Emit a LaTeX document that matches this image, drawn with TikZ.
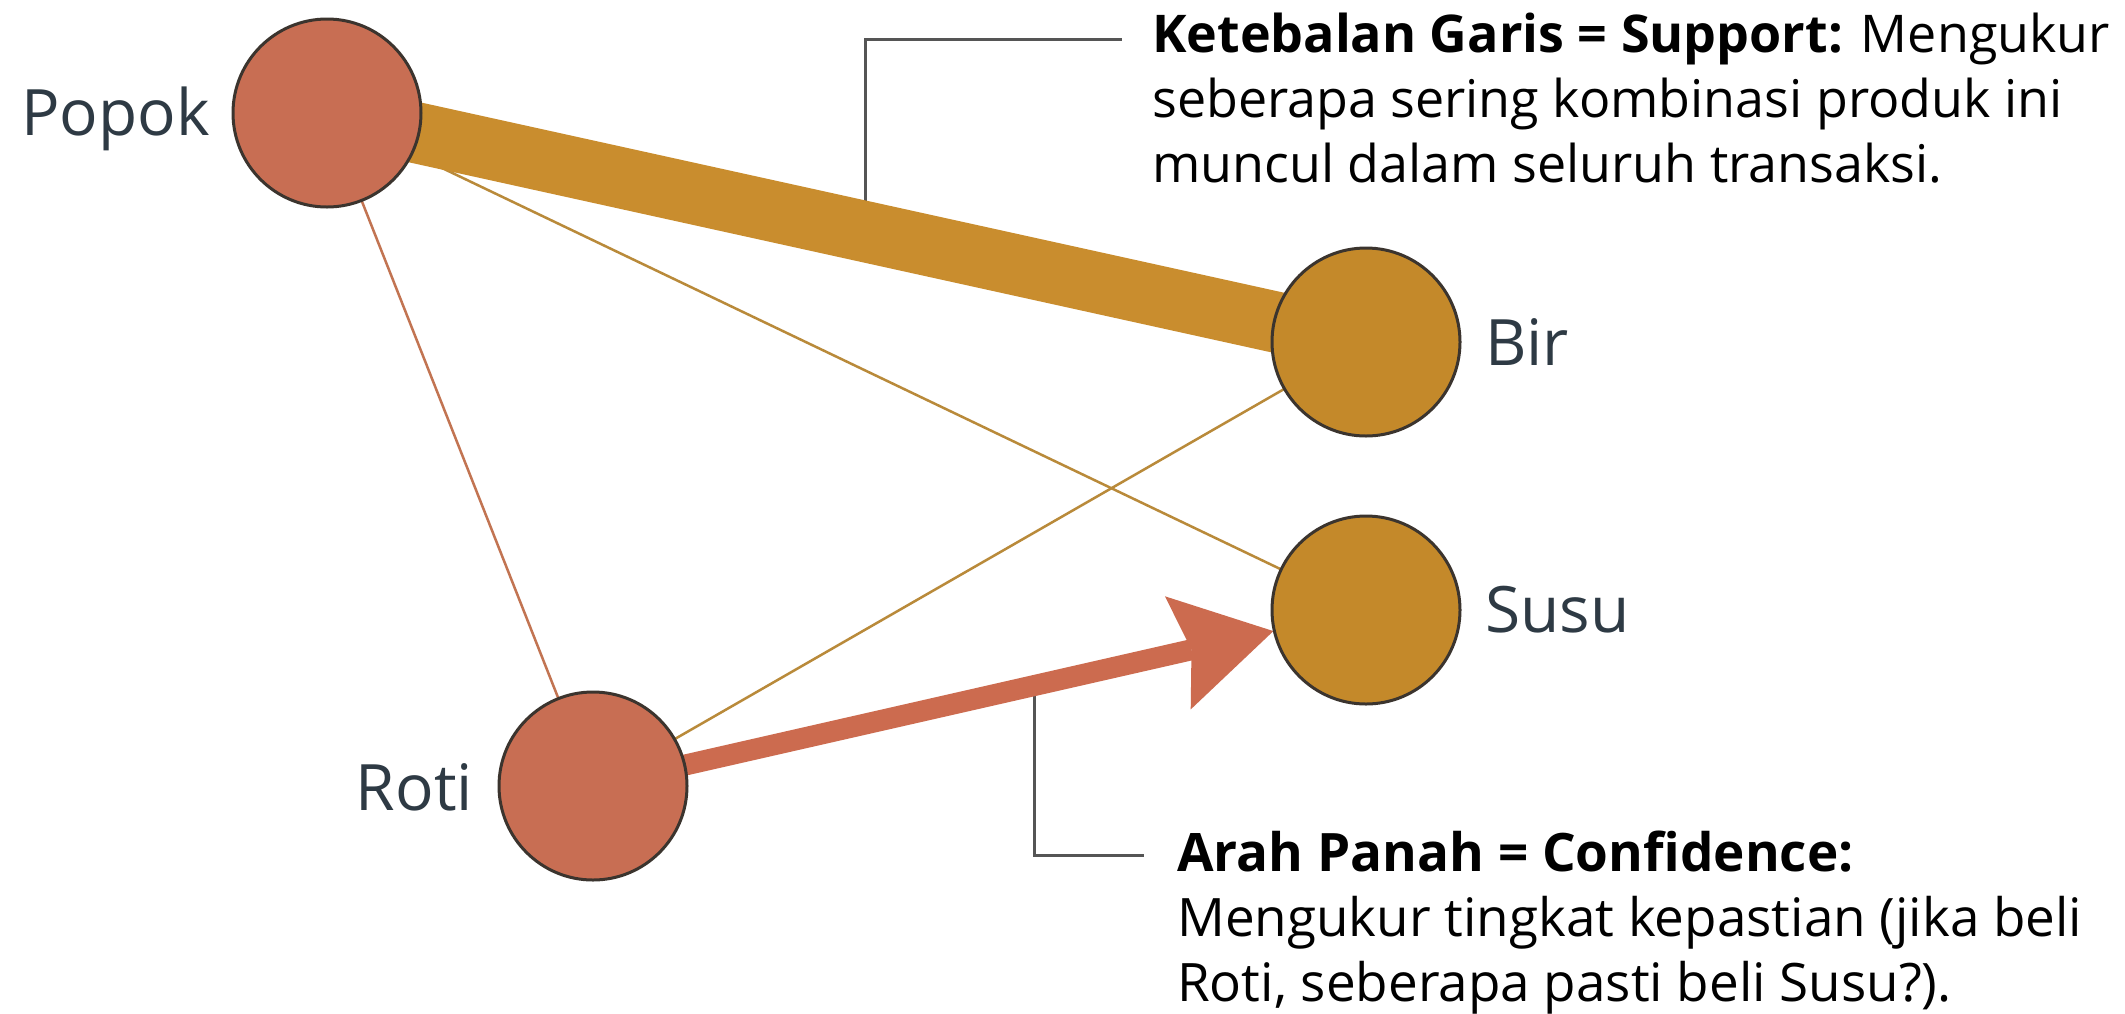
\documentclass[tikz,border=0pt]{standalone}
\usepackage{fontspec}
\setmainfont{Open Sans}
\usetikzlibrary{calc}
\definecolor{terra}{HTML}{C86E53}
\definecolor{gold}{HTML}{C4892A}
\definecolor{band}{HTML}{C98D2E}
\definecolor{rim}{HTML}{3B342E}
\definecolor{labc}{HTML}{2E3A44}
\definecolor{callc}{HTML}{555555}
\definecolor{thinred}{HTML}{C27452}
\definecolor{thingold}{HTML}{B98A3A}
\definecolor{arrowc}{HTML}{CC6B4F}
\pgfdeclarelayer{bg}
\pgfsetlayers{bg,main}
\begin{document}
\begin{tikzpicture}[x=1pt,y=-1pt,
  item/.style={circle, draw=rim, line width=3pt, minimum size=188pt, inner sep=0pt},
  itemred/.style={item, fill=terra},
  itemgold/.style={item, fill=gold},
  lab/.style={inner sep=0pt, text=labc, font=\fontsize{64}{76}\selectfont},
  callline/.style={draw=callc, line width=3pt},
  calltext/.style={inner sep=0pt, anchor=base west, text=black, font=\fontsize{52}{65}\selectfont},
  calltextb/.style={calltext, font=\fontsize{53}{65}\selectfont},
  thinline/.style={line width=2.5pt},
  bandline/.style={draw=band, line width=61pt}
]
\useasboundingbox (0,0) rectangle (2125,1013);
\begin{pgfonlayer}{bg}
  \fill[white] (0,0) rectangle (2125,1013);
\end{pgfonlayer}

% item nodes
\node[itemred]  (popok) at (327,113) {};
\node[itemgold] (bir)   at (1366,342) {};
\node[itemgold] (susu)  at (1366,610) {};
\node[itemred]  (roti)  at (593,786) {};

% labels
\node[lab, anchor=base east] (lpopok) at (210,135) {Popok};
\node[lab, anchor=base west] (lbir)   at (1485,365) {Bir};
\node[lab, anchor=base west] (lsusu)  at (1485,632) {Susu};
\node[lab, anchor=base east] (lroti)  at (473,810) {Roti};

\begin{pgfonlayer}{bg}
  % thin edges
  \draw[thinline, draw=thinred]  (popok.center) -- (roti.center);
  \draw[thinline, draw=thingold] (popok.center) -- (susu.center);
  \draw[thinline, draw=thingold] (roti.center) -- (bir.center);
  % callout 1
  \coordinate (c1) at ($(popok.center)!0.518!(bir.center)$);
  \coordinate (k1) at (1122,39);
  \draw[callline] (c1) |- (k1);
  % thick support edge
  \draw[bandline] (popok.center) -- (bir.center);
  % callout 2
  \coordinate (c2) at ($(roti.center)!0.5705!(susu.center)$);
  \coordinate (k2) at (1144,855);
  \draw[callline] (c2) |- (k2);
  % confidence arrow Roti -> Susu
  \coordinate (aS) at ($(roti.center)!80pt!(susu.center)$);
  \coordinate (aT) at ($(susu.center)!95pt!(roti.center)$);
  \coordinate (aB) at ($(aT)!98pt!(roti.center)$);
  \coordinate (aN) at ($(aT)!84pt!(roti.center)$);
  \fill[arrowc] ($(aS)!10.5pt!90:(susu.center)$) -- ($(aN)!10.5pt!90:(susu.center)$)
       -- ($(aN)!10.5pt!-90:(susu.center)$) -- ($(aS)!10.5pt!-90:(susu.center)$) -- cycle;
  \fill[arrowc] (aT) -- ($(aB)!58pt!90:(aT)$) -- (aN) -- ($(aB)!58pt!-90:(aT)$) -- cycle;
\end{pgfonlayer}

% callout texts
\node[calltext] (t1a) at (1152,52)  {\textbf{Ketebalan Garis = Support:} Mengukur};
\node[calltext] (t1b) at (1152,117) {seberapa sering kombinasi produk ini};
\node[calltext] (t1c) at (1152,182) {muncul dalam seluruh transaksi.};
\node[calltextb] (t2a) at (1177,871) {\textbf{Arah Panah = Confidence:}};
\node[calltextb] (t2b) at (1177,936) {Mengukur tingkat kepastian (jika beli};
\node[calltextb] (t2c) at (1177,1001) {Roti, seberapa pasti beli Susu?).};
\end{tikzpicture}
\end{document}
